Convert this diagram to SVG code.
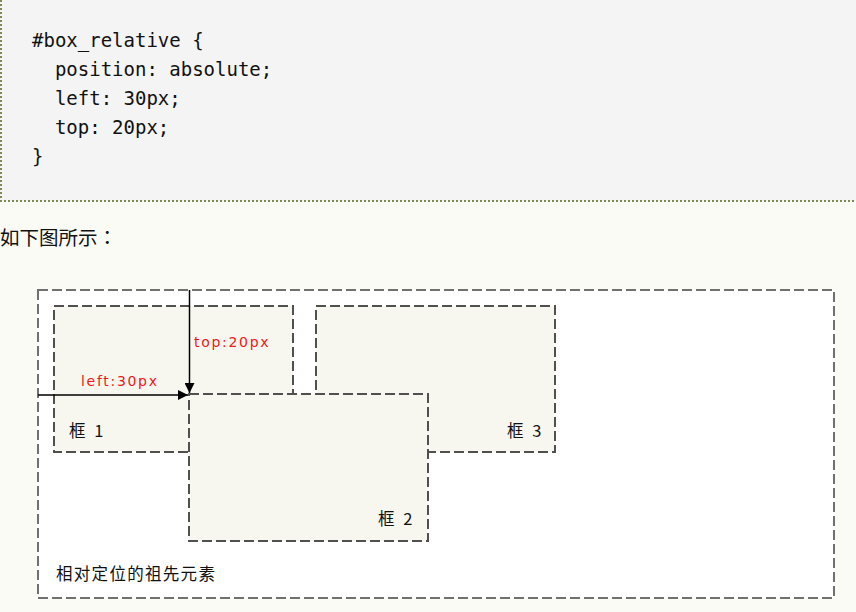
<svg xmlns="http://www.w3.org/2000/svg" width="856" height="612" viewBox="0 0 856 612">
<defs>
<style>
.code{font-family:"DejaVu Sans Mono","Liberation Mono",monospace;font-size:19px;fill:#111;}
.cn{font-family:"Noto Sans CJK SC","Noto Sans",sans-serif;fill:#111;}
.lbl{font-family:"DejaVu Sans","Noto Sans CJK SC",sans-serif;font-size:14px;letter-spacing:1.7px;fill:#f01818;}
.box{fill:#f8f7ef;stroke:#505050;stroke-width:2;stroke-dasharray:10 4;}
.outer{fill:#ffffff;stroke:#707070;stroke-width:2;stroke-dasharray:10 4;}
.arrow{stroke:#000;stroke-width:1.5;fill:none;}
.bl{font-size:16.5px;letter-spacing:2.5px;}
</style>
<marker id="ah" viewBox="0 0 10 10" refX="10" refY="5" markerWidth="10" markerHeight="10" markerUnits="userSpaceOnUse" orient="auto">
<path d="M0,0 L10,5 L0,10 z" fill="#000"/>
</marker>
</defs>
<rect x="0" y="0" width="856" height="612" fill="#fbfbf6"/>
<g id="codeblock">
<rect x="0" y="0" width="856" height="201" fill="#f4f4f4"/>
<line x1="1" y1="0" x2="1" y2="201" stroke="#7a8a52" stroke-width="2" stroke-dasharray="2 2"/>
<line x1="0" y1="201" x2="856" y2="201" stroke="#7a8a52" stroke-width="2" stroke-dasharray="2 2"/>
<text class="code" x="32" y="47" xml:space="preserve">#box_relative {</text>
<text class="code" x="32" y="76" xml:space="preserve">  position: absolute;</text>
<text class="code" x="32" y="105" xml:space="preserve">  left: 30px;</text>
<text class="code" x="32" y="134" xml:space="preserve">  top: 20px;</text>
<text class="code" x="32" y="163" xml:space="preserve">}</text>
</g>
<text x="0" y="245" font-size="19.5" font-family="'Noto Sans CJK JP','Noto Sans CJK SC',sans-serif" fill="#111">如下图所示：</text>
<g id="ancestor">
<rect class="outer" x="38" y="290" width="796" height="308"/>
<text class="cn" x="56" y="580" font-size="16.5" letter-spacing="1.3">相对定位的祖先元素</text>
</g>
<g id="box1">
<rect class="box" x="54" y="306" width="239" height="146"/>
<text class="cn bl" x="69" y="437">框 1</text>
</g>
<g id="box3">
<rect class="box" x="316" y="306" width="239" height="146"/>
<text class="cn bl" x="507" y="437">框 3</text>
</g>
<g id="box2">
<rect class="box" x="189" y="394" width="239" height="147"/>
<text class="cn bl" x="378" y="525">框 2</text>
</g>
<g id="connectors">
<line class="arrow" x1="38" y1="395" x2="188" y2="395" marker-end="url(#ah)"/>
<line class="arrow" x1="189.5" y1="290" x2="189.5" y2="393" marker-end="url(#ah)"/>
<text class="lbl" x="194" y="347">top:20px</text>
<text class="lbl" x="81" y="386">left:30px</text>
</g>
</svg>
